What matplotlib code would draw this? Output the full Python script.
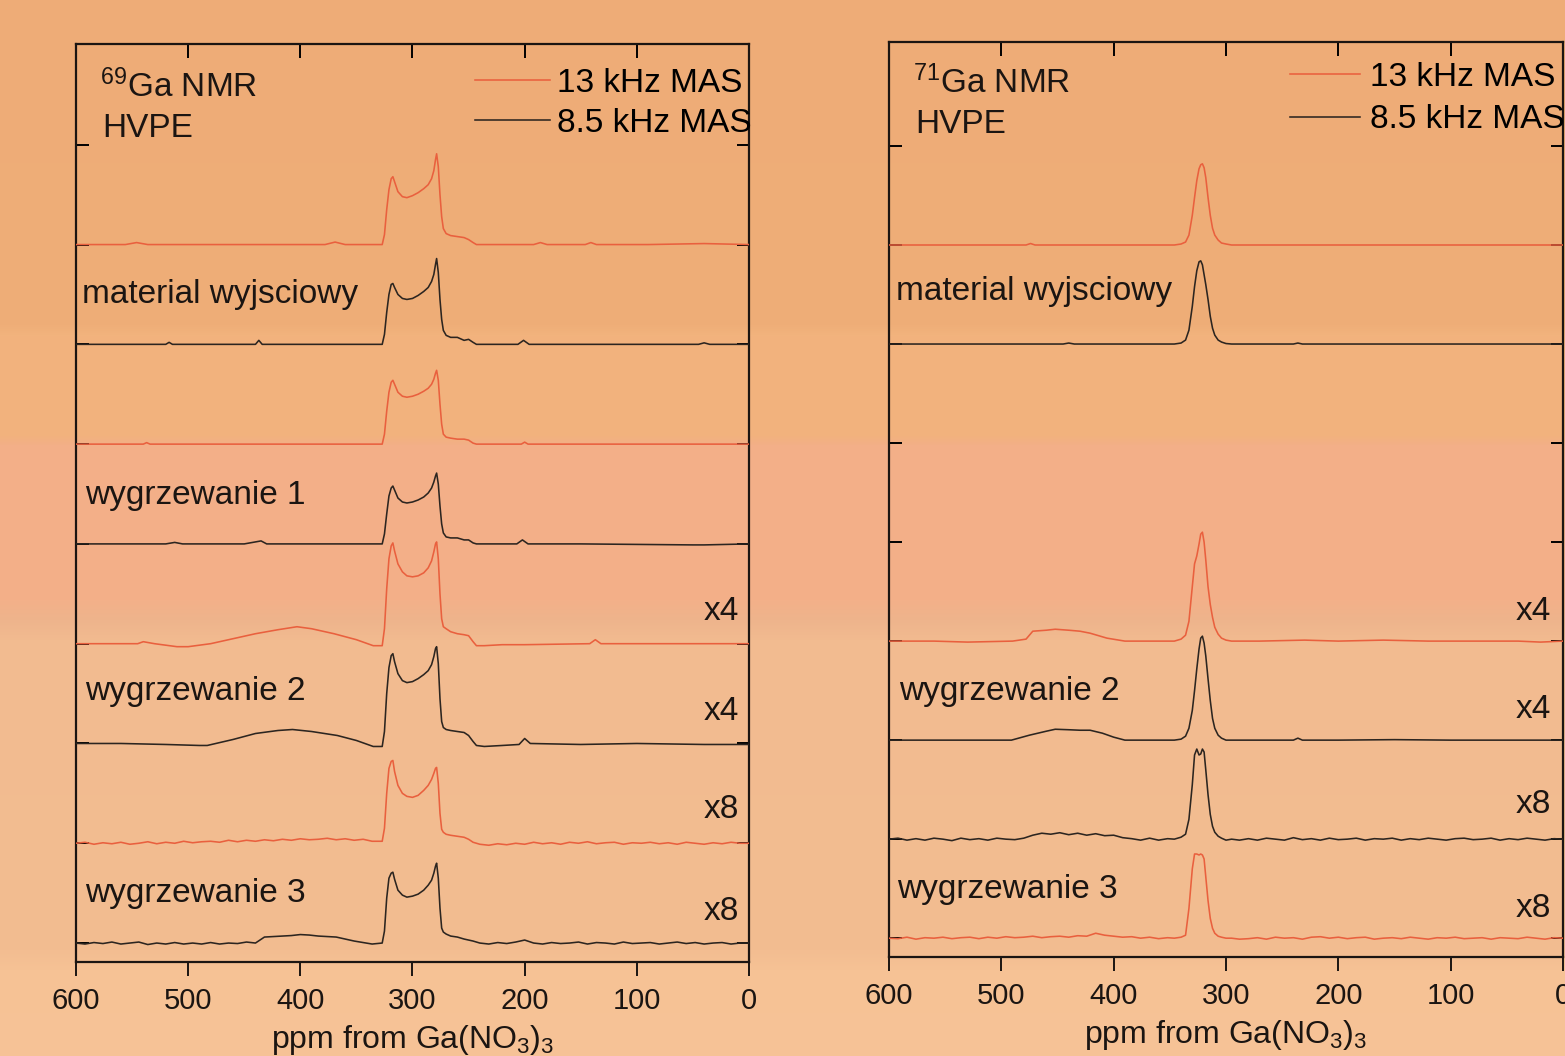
import numpy as np
import matplotlib
matplotlib.use("Agg")
import matplotlib.pyplot as plt
from matplotlib import font_manager

# ---------------- DATA ----------------
X_TICKS = [600, 500, 400, 300, 200, 100, 0]
PANEL_TITLES = ["$^{69}$Ga NMR\nHVPE", "$^{71}$Ga NMR\nHVPE"]
LEGEND_LABELS = ["13 kHz MAS", "8.5 kHz MAS"]
X_LABEL = "ppm from Ga(NO$_3$)$_3$"

# ---- 69Ga panel (left) ----
PEAK69_PPM = [327, 325, 323, 321, 319, 317.5, 316, 313, 309, 305, 300, 295, 290, 286, 283,
              281, 279.5, 278.5, 277, 275.5, 274, 272.5, 270, 266, 260, 254, 250, 246, 243]
NOISE69_LEFT_PPM = [600, 592, 584, 576, 568, 560, 552, 544, 536, 528, 520, 512, 504, 496, 488, 480, 472,
                    464, 456, 448, 440, 432, 424, 416, 408, 400, 392, 384, 376, 368, 360, 352, 344, 336]
NOISE69_RIGHT_PPM = [240, 232, 224, 216, 208, 200, 192, 184, 176, 168, 160, 152, 144, 136, 128, 120,
                     112, 104, 96, 88, 80, 72, 64, 56, 48, 40, 32, 24, 16, 8, 0]

# red, 13 kHz, starting material
ga69_r0_left_ppm = [600, 580, 556, 546, 536, 480, 420, 378, 369, 360, 340]
ga69_r0_left = [0, 0, 0, 0.02, 0, 0, 0, 0, 0.025, 0, 0]
ga69_r0_peak = [0, 0.1, 0.35, 0.55, 0.66, 0.68, 0.63, 0.53, 0.48, 0.47, 0.49, 0.52, 0.56, 0.6, 0.66,
                0.74, 0.85, 0.91, 0.78, 0.5, 0.28, 0.16, 0.11, 0.09, 0.08, 0.07, 0.05, 0.02, 0]
ga69_r0_right_ppm = [230, 200, 192, 186, 180, 146, 141, 136, 90, 40, 0]
ga69_r0_right = [0, 0, 0, 0.02, 0, 0, 0.02, 0, 0, 0.01, 0]

# black, 8.5 kHz, starting material
ga69_b0_left_ppm = [600, 560, 520, 517, 514, 470, 440, 437, 434, 380, 340]
ga69_b0_left = [0, 0, 0, 0.02, 0, 0, 0, 0.04, 0, 0, 0]
ga69_b0_peak = [0, 0.1, 0.32, 0.5, 0.6, 0.61, 0.57, 0.5, 0.46, 0.45, 0.46, 0.49, 0.53, 0.57, 0.63,
                0.7, 0.8, 0.86, 0.72, 0.45, 0.25, 0.14, 0.09, 0.07, 0.07, 0.04, 0.05, 0.02, 0]
ga69_b0_right_ppm = [230, 206, 201, 196, 150, 100, 45, 40, 35, 0]
ga69_b0_right = [0, 0, 0.04, 0, 0, 0, 0, 0.015, 0, 0]

# red, annealing 1
ga69_r1_left_ppm = [600, 540, 537, 534, 450, 400, 360, 340]
ga69_r1_left = [0, 0, 0.015, 0, 0, 0, 0, 0]
ga69_r1_peak = [0, 0.1, 0.33, 0.52, 0.62, 0.64, 0.6, 0.52, 0.48, 0.47, 0.48, 0.5, 0.53, 0.56, 0.6,
                0.65, 0.71, 0.74, 0.64, 0.4, 0.2, 0.1, 0.07, 0.06, 0.05, 0.05, 0.04, 0.01, 0]
ga69_r1_right_ppm = [230, 203, 200, 197, 140, 60, 0]
ga69_r1_right = [0, 0, 0.02, 0, 0, 0, 0]

# black, annealing 1
ga69_b1_left_ppm = [600, 520, 512, 505, 450, 440, 435, 430, 380, 340]
ga69_b1_left = [0, 0, 0.015, 0, 0, 0.02, 0.03, 0, 0, 0]
ga69_b1_peak = [0, 0.1, 0.3, 0.48, 0.56, 0.58, 0.54, 0.46, 0.42, 0.41, 0.42, 0.44, 0.47, 0.51, 0.56,
                0.62, 0.68, 0.71, 0.6, 0.38, 0.2, 0.11, 0.07, 0.06, 0.06, 0.04, 0.04, 0.01, 0]
ga69_b1_right_ppm = [230, 207, 202, 197, 150, 50, 40, 0]
ga69_b1_right = [0, 0, 0.04, 0, 0, -0.01, -0.01, 0]

# red, annealing 2 (x4)
ga69_r2_left_ppm = [600, 560, 545, 540, 530, 510, 500, 480, 460, 440, 420, 403, 390, 370, 350, 335]
ga69_r2_left = [0, 0, 0, 0.02, 0, -0.03, -0.03, 0.0, 0.05, 0.1, 0.14, 0.17, 0.15, 0.1, 0.04, -0.02]
ga69_r2_peak = [-0.02, 0.15, 0.55, 0.85, 0.98, 1.01, 0.93, 0.8, 0.72, 0.68, 0.67, 0.68, 0.71, 0.76, 0.83,
                0.92, 1.0, 1.02, 0.85, 0.5, 0.25, 0.17, 0.15, 0.12, 0.1, 0.09, 0.08, 0.02, -0.02]
ga69_r2_right_ppm = [236, 220, 200, 142, 137, 132, 100, 40, 0]
ga69_r2_right = [-0.02, -0.01, -0.01, 0, 0.04, 0, 0, 0, 0]

# black, annealing 2 (x4)
ga69_b2_left_ppm = [600, 560, 520, 490, 483, 460, 440, 420, 407, 390, 367, 350, 335]
ga69_b2_left = [0, 0, -0.01, -0.02, -0.02, 0.04, 0.1, 0.13, 0.14, 0.12, 0.08, 0.03, -0.03]
ga69_b2_peak = [-0.03, 0.12, 0.5, 0.76, 0.88, 0.9, 0.82, 0.7, 0.63, 0.61, 0.62, 0.65, 0.69, 0.73, 0.79,
                0.87, 0.95, 0.97, 0.8, 0.45, 0.22, 0.16, 0.14, 0.13, 0.12, 0.11, 0.08, 0.02, -0.02]
ga69_b2_right_ppm = [236, 220, 205, 200, 195, 150, 100, 40, 0]
ga69_b2_right = [-0.03, -0.02, -0.01, 0.05, 0, -0.01, 0, -0.01, -0.01]

# red, annealing 3 (x8)
ga69_r3_left = [0, 0.01, -0.01, 0.005, -0.005, 0.01, -0.01, 0, 0.015, -0.005,
                0.01, 0, 0.02, 0.005, 0.015, 0.02, 0.01, 0.03, 0.015, 0.03,
                0.02, 0.035, 0.025, 0.04, 0.03, 0.045, 0.035, 0.04, 0.05, 0.035,
                0.045, 0.03, 0.04, 0.02]
ga69_r3_peak = [0.02, 0.15, 0.5, 0.75, 0.82, 0.83, 0.72, 0.58, 0.5, 0.47, 0.46, 0.48, 0.53, 0.58, 0.64,
                0.7, 0.75, 0.76, 0.6, 0.3, 0.14, 0.11, 0.09, 0.08, 0.07, 0.06, 0.04, 0.01, 0]
ga69_r3_right = [-0.01, -0.02, -0.005, -0.015, 0, -0.01, 0.01, -0.005, 0.005, -0.01,
                 0.01, 0, 0.015, -0.005, 0.005, 0.01, -0.01, 0.005, 0, 0.01,
                 -0.005, 0.005, -0.01, 0.01, 0, -0.01, 0.005, -0.005, 0.01, 0, 0]

# black, annealing 3 (x8)
ga69_b3_left = [0, -0.01, 0.005, -0.005, 0.01, -0.01, 0, 0.01, -0.015, 0,
                -0.01, 0.005, -0.01, 0, -0.01, 0.005, -0.01, 0, -0.005, 0.01,
                0.0, 0.06, 0.065, 0.07, 0.075, 0.085, 0.08, 0.07, 0.065, 0.06,
                0.04, 0.02, 0.005, -0.01]
ga69_b3_peak = [0.0, 0.12, 0.45, 0.65, 0.7, 0.71, 0.64, 0.53, 0.48, 0.46, 0.47, 0.49, 0.53, 0.58, 0.63,
                0.7, 0.77, 0.8, 0.65, 0.35, 0.15, 0.11, 0.09, 0.07, 0.06, 0.04, 0.03, 0.02, 0.01]
ga69_b3_right = [0.0, -0.01, 0.005, -0.005, 0.01, 0.03, 0.0, -0.01, 0.005, -0.005,
                 0, 0.01, -0.01, 0.005, 0, -0.01, 0.01, -0.005, 0, 0.005,
                 -0.01, 0, 0.01, -0.005, 0.005, -0.01, 0, 0.005, -0.01, 0, 0]

# ---- 71Ga panel (right) ----
PEAK71_PPM = [346, 340, 336, 333, 330, 328, 326, 324, 322.5, 321, 319.5, 318, 316, 314, 312, 310, 307, 304, 300, 295]
NOISE71_LEFT_PPM = [600, 592, 584, 576, 568, 560, 552, 544, 536, 528, 520, 512, 504, 496, 488, 480,
                    472, 464, 456, 448, 440, 432, 424, 416, 408, 400, 392, 384, 376, 368, 360, 352]
NOISE71_RIGHT_PPM = [288, 280, 272, 264, 256, 248, 240, 232, 224, 216, 208, 200, 192, 184, 176, 168, 160,
                     152, 144, 136, 128, 120, 112, 104, 96, 88, 80, 72, 64, 56, 48, 40, 32, 24, 16, 8, 0]

ga71_r0_left_ppm = [600, 520, 478, 474, 470, 400, 360]
ga71_r0_left = [0, 0, 0, 0.015, 0, 0, 0]
ga71_r0_peak = [0, 0.01, 0.03, 0.1, 0.3, 0.48, 0.65, 0.77, 0.81, 0.82, 0.78, 0.68, 0.48, 0.3, 0.17,
                0.1, 0.05, 0.02, 0.01, 0]
ga71_r0_right_ppm = [290, 240, 150, 60, 0]
ga71_r0_right = [0, 0, 0, 0, 0]

ga71_b0_left_ppm = [600, 520, 470, 445, 440, 435, 400, 360]
ga71_b0_left = [0, 0, 0, 0, 0.01, 0, 0, 0]
ga71_b0_peak = [0, 0.01, 0.04, 0.14, 0.38, 0.58, 0.74, 0.83, 0.84, 0.8, 0.7, 0.6, 0.45, 0.28, 0.16,
                0.09, 0.04, 0.02, 0.005, 0]
ga71_b0_right_ppm = [290, 240, 236, 232, 150, 60, 0]
ga71_b0_right = [0, 0, 0.01, 0, 0, 0, 0]

ga71_r2_left_ppm = [600, 560, 530, 490, 478, 472, 460, 452, 440, 430, 421, 412, 406, 390, 370, 350]
ga71_r2_left = [0, 0, -0.01, 0, 0.02, 0.1, 0.11, 0.12, 0.11, 0.1, 0.08, 0.05, 0.03, 0.0, 0, 0]
ga71_r2_peak = [0, 0.02, 0.06, 0.2, 0.55, 0.78, 0.86, 0.98, 1.08, 1.1, 1.0, 0.82, 0.55, 0.37, 0.24,
                0.14, 0.07, 0.03, 0.01, 0]
ga71_r2_right_ppm = [290, 270, 230, 200, 160, 120, 80, 40, 20, 0]
ga71_r2_right = [0, 0, 0.01, 0, 0.01, 0, 0, 0, -0.01, 0]

ga71_b2_left_ppm = [600, 540, 500, 491, 475, 460, 452, 440, 430, 421, 410, 400, 390, 370, 350]
ga71_b2_left = [0, 0, 0, 0, 0.05, 0.09, 0.11, 0.105, 0.1, 0.1, 0.07, 0.03, 0, 0, 0]
ga71_b2_peak = [0, 0.01, 0.04, 0.12, 0.3, 0.5, 0.72, 0.92, 1.03, 1.05, 0.98, 0.85, 0.62, 0.4, 0.22,
                0.12, 0.05, 0.02, 0, 0]
ga71_b2_right_ppm = [290, 250, 240, 236, 232, 200, 150, 100, 50, 0]
ga71_b2_right = [0, 0, 0, 0.02, 0, 0, 0.005, 0, 0, 0]

ga71_b3_left = [0, 0.01, -0.01, 0.005, -0.01, 0.01, 0, -0.015, 0.01, -0.005,
                0.005, -0.01, 0.01, 0, -0.005, 0.01, 0.04, 0.06, 0.05, 0.065,
                0.045, 0.06, 0.04, 0.055, 0.035, 0.04, 0.015, 0.005, -0.01, 0.01,
                -0.01, 0.005]
ga71_b3_peak = [0, 0.02, 0.05, 0.2, 0.55, 0.85, 0.91, 0.85, 0.86, 0.91, 0.88, 0.7, 0.45, 0.25, 0.13,
                0.07, 0.03, 0.01, -0.01, 0]
ga71_b3_right = [-0.01, 0.005, -0.01, 0.01, 0, -0.01, 0.015, -0.005, 0.005, -0.01,
                 0.01, -0.005, 0, 0.01, -0.01, 0.005, 0, 0.01, -0.01, 0.005,
                 -0.005, 0.01, 0, -0.01, 0.005, 0.01, -0.005, 0, 0.01, -0.01,
                 0.005, -0.005, 0.01, 0, -0.01, 0.005, 0]

ga71_r3_left = [0, -0.005, 0.01, -0.01, 0.005, 0, 0.01, -0.005, 0.005, 0.01,
                -0.005, 0.01, 0, 0.015, 0.005, 0.01, 0.02, 0.005, 0.015, 0.02,
                0.01, 0.025, 0.02, 0.05, 0.03, 0.02, 0.01, 0.015, 0.0, 0.01,
                -0.005, 0.005]
ga71_r3_peak = [0, 0.01, 0.03, 0.3, 0.7, 0.85, 0.85, 0.84, 0.85, 0.84, 0.8, 0.62, 0.38, 0.2, 0.1,
                0.05, 0.02, 0.01, 0, 0]
ga71_r3_right = [-0.01, -0.005, 0.005, -0.01, 0.01, 0, 0.005, -0.01, 0.01, 0.015,
                 0, 0.01, -0.005, 0.005, 0.01, -0.01, 0, 0.005, -0.005, 0.01,
                 0, -0.01, 0.005, 0, 0.01, -0.005, 0, 0.005, -0.01, 0.005,
                 0, -0.005, 0.01, 0, -0.01, 0.005, 0]

# ---------------- STYLE / LAYOUT ----------------
RED = "#E9603E"
BLACK = "#2C2520"
W, H = 1565, 1056

names = {f.name for f in font_manager.fontManager.ttflist}
MAIN_FONT = "Liberation Sans" if "Liberation Sans" in names else "DejaVu Sans"
NARROW_FONT = "Liberation Sans Narrow" if "Liberation Sans Narrow" in names else MAIN_FONT
plt.rcParams["font.family"] = [MAIN_FONT, "DejaVu Sans"]
plt.rcParams["mathtext.fontset"] = "custom"
plt.rcParams["mathtext.rm"] = MAIN_FONT
plt.rcParams["mathtext.it"] = MAIN_FONT + ":italic"
plt.rcParams["mathtext.bf"] = MAIN_FONT + ":bold"

fig = plt.figure(figsize=(W / 100, H / 100), dpi=100)

# background gradient (bands)
bg = fig.add_axes([0, 0, 1, 1], zorder=-10)
stops_y = [0, 325, 335, 435, 445, 600, 620, 640, 950, 970, 1056]
stops_c = ["#EEAC77", "#EFAE78", "#F2B37D", "#F2B27D", "#F3AF88", "#F3B089", "#EEB48C",
           "#F2BB90", "#F3BD91", "#F6C295", "#F6C397"]
rgb = np.array([matplotlib.colors.to_rgb(c) for c in stops_c])
yy = np.arange(H)
grad = np.stack([np.interp(yy, stops_y, rgb[:, k]) for k in range(3)], axis=-1)
bg.imshow(grad[:, None, :], aspect="auto", extent=[0, 1, 0, 1], origin="upper")
bg.set_axis_off()


def px_axes(x0, y0, x1, y1):
    return fig.add_axes([x0 / W, 1 - y1 / H, (x1 - x0) / W, (y1 - y0) / H])


def ftext(x, y, s, **kw):
    fig.text(x / W, 1 - y / H, s, **kw)


def style_axes(ax, ylim, tick_font, tick_size):
    ax.set_facecolor("none")
    ax.set_xlim(600, 0)
    ax.set_ylim(*ylim)
    for sp in ax.spines.values():
        sp.set_linewidth(1.6)
        sp.set_color("#1b1512")
    ax.set_xticks(X_TICKS)
    ax.set_xticklabels([str(t) for t in X_TICKS], fontfamily=tick_font, fontsize=tick_size)
    ax.tick_params(axis="x", direction="out", length=10, width=1.4, pad=8, colors="#1b1512")
    ax.set_yticks(range(9))
    ax.tick_params(axis="y", left=True, right=True, direction="in", length=9, width=1.4,
                   labelleft=False)
    top = ax.secondary_xaxis("top")
    top.set_xticks(X_TICKS[1:-1])
    top.tick_params(direction="in", length=10, width=1.4, labeltop=False)
    top.spines["top"].set_visible(False)
    ax.set_xlabel(X_LABEL, fontsize=23, labelpad=6, color="#1b1512")


def trace(ax, ppm, vals, offset, color):
    ax.plot(ppm, np.asarray(vals) + offset, color=color, lw=1.15, zorder=3)


TICK_SIZE = 23 if NARROW_FONT != MAIN_FONT else 21
FS = 24

# ---------- left panel ----------
axL = px_axes(76, 44, 749, 962)
style_axes(axL, (-0.19, 9.01), NARROW_FONT, TICK_SIZE)
left_traces = [
    (ga69_r0_left_ppm + PEAK69_PPM + ga69_r0_right_ppm, ga69_r0_left + ga69_r0_peak + ga69_r0_right, 7, RED),
    (ga69_b0_left_ppm + PEAK69_PPM + ga69_b0_right_ppm, ga69_b0_left + ga69_b0_peak + ga69_b0_right, 6, BLACK),
    (ga69_r1_left_ppm + PEAK69_PPM + ga69_r1_right_ppm, ga69_r1_left + ga69_r1_peak + ga69_r1_right, 5, RED),
    (ga69_b1_left_ppm + PEAK69_PPM + ga69_b1_right_ppm, ga69_b1_left + ga69_b1_peak + ga69_b1_right, 4, BLACK),
    (ga69_r2_left_ppm + PEAK69_PPM + ga69_r2_right_ppm, ga69_r2_left + ga69_r2_peak + ga69_r2_right, 3, RED),
    (ga69_b2_left_ppm + PEAK69_PPM + ga69_b2_right_ppm, ga69_b2_left + ga69_b2_peak + ga69_b2_right, 2, BLACK),
    (NOISE69_LEFT_PPM + PEAK69_PPM + NOISE69_RIGHT_PPM, ga69_r3_left + ga69_r3_peak + ga69_r3_right, 1, RED),
    (NOISE69_LEFT_PPM + PEAK69_PPM + NOISE69_RIGHT_PPM, ga69_b3_left + ga69_b3_peak + ga69_b3_right, 0, BLACK),
]
for p, v, o, c in left_traces:
    trace(axL, p, v, o, c)

# ---------- right panel ----------
axR = px_axes(889, 42, 1563, 957)
style_axes(axR, (-0.19, 9.05), NARROW_FONT, TICK_SIZE)
right_traces = [
    (ga71_r0_left_ppm + PEAK71_PPM + ga71_r0_right_ppm, ga71_r0_left + ga71_r0_peak + ga71_r0_right, 7, RED),
    (ga71_b0_left_ppm + PEAK71_PPM + ga71_b0_right_ppm, ga71_b0_left + ga71_b0_peak + ga71_b0_right, 6, BLACK),
    (ga71_r2_left_ppm + PEAK71_PPM + ga71_r2_right_ppm, ga71_r2_left + ga71_r2_peak + ga71_r2_right, 3, RED),
    (ga71_b2_left_ppm + PEAK71_PPM + ga71_b2_right_ppm, ga71_b2_left + ga71_b2_peak + ga71_b2_right, 2, BLACK),
    (NOISE71_LEFT_PPM + PEAK71_PPM + NOISE71_RIGHT_PPM, ga71_b3_left + ga71_b3_peak + ga71_b3_right, 1, BLACK),
    (NOISE71_LEFT_PPM + PEAK71_PPM + NOISE71_RIGHT_PPM, ga71_r3_left + ga71_r3_peak + ga71_r3_right, 0, RED),
]
for p, v, o, c in right_traces:
    trace(axR, p, v, o, c)

# legends
for ax, anchor, hl, htp, ls in [(axL, (0.593, 0.974), 2.25, 0.22, 0.26),
                                (axR, (0.595, 0.978), 2.1, 0.3, 0.34)]:
    h = [plt.Line2D([], [], color=RED, lw=1.15), plt.Line2D([], [], color=BLACK, lw=1.15)]
    ax.legend(h, LEGEND_LABELS, loc="upper left", bbox_to_anchor=anchor, frameon=False,
              fontsize=FS, borderpad=0, borderaxespad=0, handlelength=hl,
              handletextpad=htp, labelspacing=ls)

# annotations (pixel positions of text baselines)
TXT = dict(fontsize=FS, color="#1b1512", va="baseline")
ftext(100, 97, PANEL_TITLES[0].split("\n")[0], **TXT)
ftext(102, 137, "HVPE", **TXT)
ftext(913, 93, PANEL_TITLES[1].split("\n")[0], **TXT)
ftext(915, 133, "HVPE", **TXT)

ftext(82, 303, "material wyjsciowy", **TXT)
ftext(85, 504, "wygrzewanie 1", **TXT)
ftext(85, 700, "wygrzewanie 2", **TXT)
ftext(85, 902, "wygrzewanie 3", **TXT)
ftext(896, 300, "material wyjsciowy", **TXT)
ftext(899, 700, "wygrzewanie 2", **TXT)
ftext(897, 898, "wygrzewanie 3", **TXT)

for y, s in [(620, "x4"), (720, "x4"), (818, "x8"), (920, "x8")]:
    ftext(739, y, s, ha="right", **TXT)
for y, s in [(620, "x4"), (718, "x4"), (813, "x8"), (917, "x8")]:
    ftext(1551, y, s, ha="right", **TXT)

fig.savefig("out.png", dpi=100)
